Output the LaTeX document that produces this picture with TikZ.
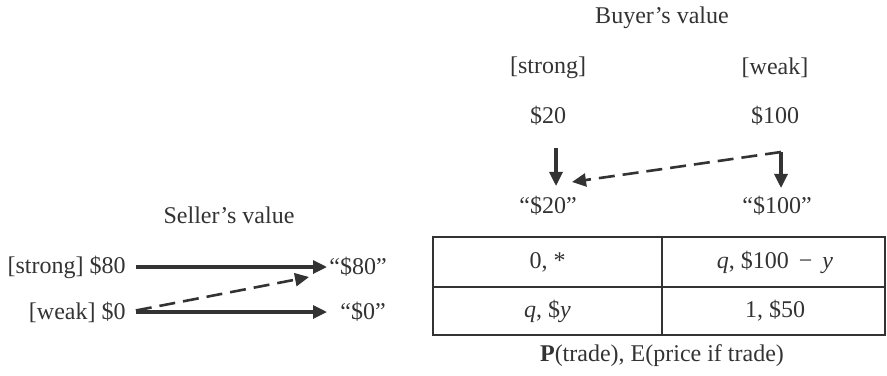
\documentclass[tikz,border=0pt]{standalone}
\usepackage{fontspec}
\setmainfont{Liberation Serif}
\usetikzlibrary{arrows.meta}
\definecolor{ink}{HTML}{333333}
\tikzset{
  lbl/.style={font=\fontsize{12}{14}\selectfont, text=ink, inner sep=1pt},
  move/.style={-{Triangle[length=7pt, width=6.5pt]}, line width=1.6pt, draw=ink},
  bluff/.style={-{Triangle[length=7pt, width=6.5pt]}, line width=1.3pt, draw=ink, dash pattern=on 8pt off 4pt},
  tablerule/.style={draw=ink, line width=1pt}
}

\begin{document}
\begin{tikzpicture}[x=0.5pt, y=-0.5pt]
    \useasboundingbox (0,0) rectangle (887,375);
    % buyer side
    \node[lbl] (buyer) at (662,18) {Buyer’s value};
    \node[lbl] (bstrong) at (548,68) {[strong]};
    \node[lbl] (bweak) at (775,68) {[weak]};
    \node[lbl] (b20) at (548,116) {\$20};
    \node[lbl] (b100) at (775,116) {\$100};
    \node[lbl] (q20) at (548,206) {“\$20”};
    \node[lbl] (q100) at (777,206) {“\$100”};
    \draw[move] ([xshift=4pt,yshift=-10pt]b20.south) -- ([xshift=4pt,yshift=4pt]q20.north);
    \draw[move] ([xshift=3pt,yshift=-12pt]b100.south) coordinate (wtop) -- ([xshift=2pt,yshift=3pt]q100.north);
    \draw[bluff] (wtop) -- ([xshift=12pt,yshift=6pt]q20.north);
    % seller side
    \node[lbl] (seller) at (229,215) {Seller’s value};
    \node[lbl, anchor=east] (s80) at (128,267) {[strong] \$80};
    \node[lbl, anchor=east] (s0) at (128,312) {[weak] \$0};
    \node[lbl, anchor=west] (m80) at (327,267) {“\$80”};
    \node[lbl, anchor=west] (m0) at (338,312) {“\$0”};
    \draw[move, shorten <=4pt] (s80.east) -- (m80.west);
    \draw[move, shorten <=4pt, shorten >=5.5pt] (s0.east) -- (m0.west);
    \draw[bluff, shorten <=4pt] (s0.east) -- ([xshift=-9pt,yshift=-5pt]m80.west);
    % outcome table
    \draw[tablerule] (433,237) rectangle (885,335);
    \draw[tablerule] (662,237) -- (662,335);
    \draw[tablerule] (433,287) -- (885,287);
    \node[lbl] (c11) at (547.5,262) {0, *};
    \node[lbl] (c12) at (775,262) {\textit{q}, \$100 \,−\, \textit{y}};
    \node[lbl] (c21) at (547.5,311) {\textit{q}, \$\textit{y}};
    \node[lbl] (c22) at (775,311) {1, \$50};
    \node[lbl] (caption) at (662,356) {\textbf{P}(trade), E(price if trade)};
\end{tikzpicture}
\end{document}
